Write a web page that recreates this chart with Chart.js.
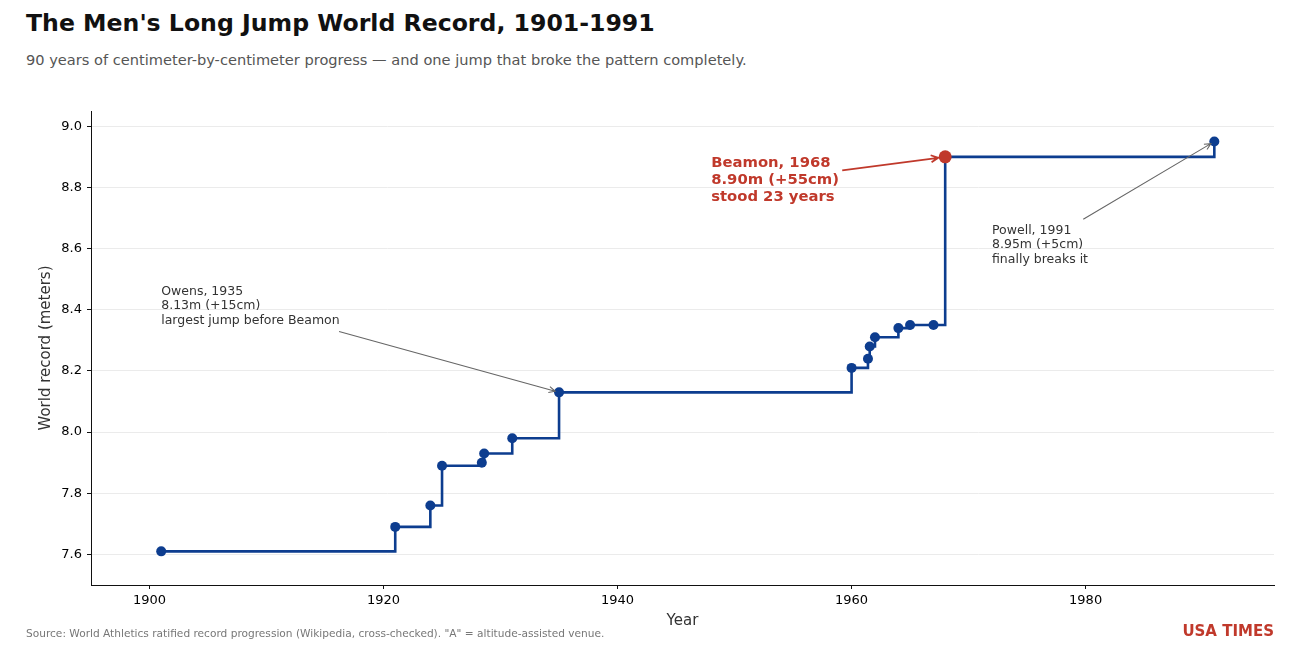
<!DOCTYPE html>
<html>
<head>
<meta charset="utf-8">
<script src="https://cdn.jsdelivr.net/npm/chart.js@4.4.1/dist/chart.umd.min.js"></script>
<style>
  html, body { margin: 0; padding: 0; background: #fff; }
  body { width: 1300px; height: 650px; position: relative; overflow: hidden; font-family: 'DejaVu Sans', sans-serif; }
  #wrap { position: absolute; left: 0; top: 0; width: 1300px; height: 650px; }
  .txt { position: absolute; white-space: nowrap; }
  #title { left: 26px; top: 9px; font-size: 23.6px; font-weight: bold; color: #111; }
  #subtitle { left: 26px; top: 51px; font-size: 14.6px; color: #555; }
  #source { left: 26px; top: 627px; font-size: 10.6px; color: #777; }
  #brand { right: 26px; top: 622px; font-size: 15px; font-weight: bold; color: #c0392b; }
</style>
</head>
<body>
<div id="title" class="txt">The Men's Long Jump World Record, 1901-1991</div>
<div id="subtitle" class="txt">90 years of centimeter-by-centimeter progress — and one jump that broke the pattern completely.</div>
<div id="wrap"><canvas id="chart"></canvas></div>
<div id="source" class="txt">Source: World Athletics ratified record progression (Wikipedia, cross-checked). "A" = altitude-assisted venue.</div>
<div id="brand" class="txt">USA TIMES</div>
<script>
// record progression (year of record, mark in meters)
const years = [1901, 1921, 1924, 1925, 1928.4, 1928.6, 1931, 1935, 1960, 1961.4, 1961.55, 1962, 1964, 1965, 1967, 1968, 1991];
const marks = [7.61, 7.69, 7.76, 7.89, 7.90, 7.93, 7.98, 8.13, 8.21, 8.24, 8.28, 8.31, 8.34, 8.35, 8.35, 8.90, 8.95];
const yTicks = [7.6, 7.8, 8.0, 8.2, 8.4, 8.6, 8.8, 9.0];
const xTicks = [1900, 1920, 1940, 1960, 1980];

// callouts: text anchor (data coords), arrow start (data coords), arrow target
const notes = [
  { lines: ['Owens, 1935', '8.13m (+15cm)', 'largest jump before Beamon'], at: [1901, 8.46], from: [1916.2, 8.329], to: [1935, 8.13], color: '#333', arrow: '#666', bold: false },
  { lines: ['Powell, 1991', '8.95m (+5cm)', 'finally breaks it'], at: [1972, 8.66], from: [1979.8, 8.696], to: [1991, 8.95], color: '#333', arrow: '#666', bold: false },
  { lines: ['Beamon, 1968', '8.90m (+55cm)', 'stood 23 years'], at: [1948, 8.879], from: [1959.2, 8.856], to: [1968, 8.90], color: '#c0392b', arrow: '#c0392b', bold: true },
];

const BLUE = '#0d3d8f';
const RED = '#c0392b';

const points = years.map((y, i) => ({ x: y, y: marks[i] }));
const isBeamon = (ctx) => ctx.raw && ctx.raw.x === 1968;

const labelsPlugin = {
  id: 'labels',
  afterDraw(chart) {
    const { ctx, chartArea, scales } = chart;
    const x = scales.x, y = scales.y;
    ctx.save();
    // axis titles
    ctx.fillStyle = '#333';
    ctx.font = '15px "DejaVu Sans"';
    ctx.textAlign = 'center';
    ctx.textBaseline = 'middle';
    ctx.fillText('Year', (chartArea.left + chartArea.right) / 2, 621);
    ctx.translate(46, (chartArea.top + chartArea.bottom) / 2);
    ctx.rotate(-Math.PI / 2);
    ctx.fillText('World record (meters)', 0, 0);
    ctx.restore();

    notes.forEach((n) => {
      const fx = x.getPixelForValue(n.from[0]), fy = y.getPixelForValue(n.from[1]);
      const tx = x.getPixelForValue(n.to[0]), ty = y.getPixelForValue(n.to[1]);
      const ang = Math.atan2(ty - fy, tx - fx);
      const shrink = n.bold ? 7 : 4;
      const ex = tx - Math.cos(ang) * shrink, ey = ty - Math.sin(ang) * shrink;
      ctx.save();
      ctx.strokeStyle = n.arrow;
      ctx.lineWidth = n.bold ? 1.8 : 1.1;
      ctx.beginPath();
      ctx.moveTo(fx, fy);
      ctx.lineTo(ex, ey);
      const h = n.bold ? 8 : 7;
      ctx.moveTo(ex - Math.cos(ang - 0.45) * h, ey - Math.sin(ang - 0.45) * h);
      ctx.lineTo(ex, ey);
      ctx.lineTo(ex - Math.cos(ang + 0.45) * h, ey - Math.sin(ang + 0.45) * h);
      ctx.stroke();

      ctx.fillStyle = n.color;
      ctx.font = n.bold ? 'bold 14.8px "DejaVu Sans"' : '12.5px "DejaVu Sans"';
      ctx.textAlign = 'left';
      ctx.textBaseline = 'middle';
      const lh = n.bold ? 17 : 14.6;
      const px = x.getPixelForValue(n.at[0]), py = y.getPixelForValue(n.at[1]);
      n.lines.forEach((t, i) => ctx.fillText(t, px, py + i * lh));
      ctx.restore();
    });
  }
};

new Chart(document.getElementById('chart'), {
  type: 'line',
  data: {
    datasets: [{
      data: points,
      stepped: true,
      borderColor: BLUE,
      borderWidth: 2.6,
      pointRadius: (ctx) => isBeamon(ctx) ? 6.5 : 5,
      pointHoverRadius: (ctx) => isBeamon(ctx) ? 6.5 : 5,
      pointBackgroundColor: (ctx) => isBeamon(ctx) ? RED : BLUE,
      pointBorderColor: (ctx) => isBeamon(ctx) ? RED : BLUE,
      pointBorderWidth: 0,
      fill: false,
    }],
  },
  options: {
    responsive: true,
    maintainAspectRatio: false,
    animation: false,
    layout: { padding: { left: 0, top: 111, right: 26, bottom: 0 } },
    plugins: { legend: { display: false }, tooltip: { enabled: false } },
    scales: {
      x: {
        type: 'linear',
        min: 1895,
        max: 1996.1,
        afterBuildTicks: (s) => { s.ticks = xTicks.map((v) => ({ value: v })); },
        afterFit: (s) => { s.height = 65; },
        ticks: { color: '#000', font: { family: 'DejaVu Sans', size: 13 }, padding: 4, callback: (v) => String(v) },
        grid: { drawOnChartArea: false, tickLength: 4, tickColor: '#111', lineWidth: 1 },
        border: { color: '#111', width: 1 },
      },
      y: {
        min: 7.5,
        max: 9.05,
        afterBuildTicks: (s) => { s.ticks = yTicks.map((v) => ({ value: v })); },
        afterFit: (s) => { s.width = 91; },
        ticks: { color: '#000', font: { family: 'DejaVu Sans', size: 13 }, padding: 5, callback: (v) => v.toFixed(1) },
        grid: { color: '#ebebeb', lineWidth: 1, tickLength: 4, tickColor: '#111' },
        border: { color: '#111', width: 1 },
      },
    },
  },
  plugins: [labelsPlugin],
});
</script>
</body>
</html>
